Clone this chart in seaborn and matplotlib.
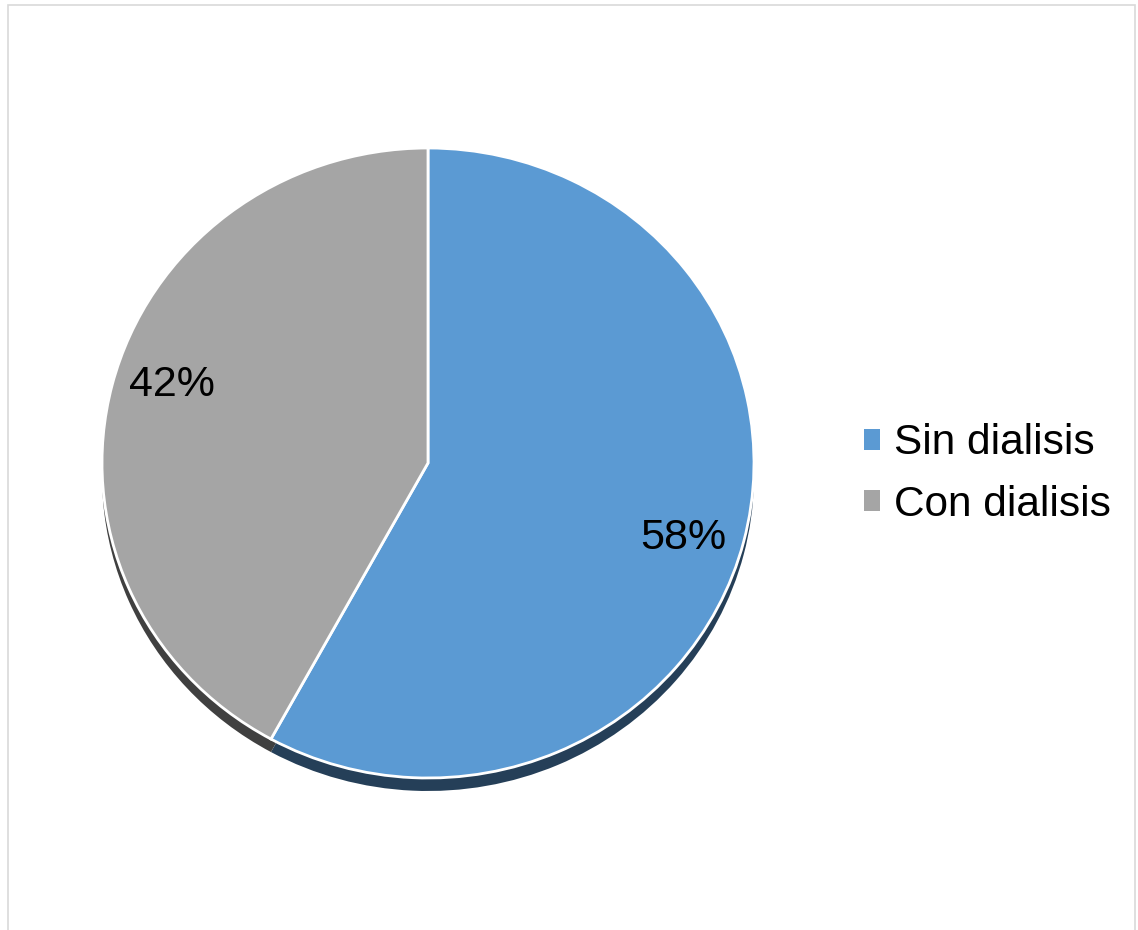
import matplotlib
matplotlib.use("Agg")
import matplotlib.pyplot as plt
import seaborn as sns
from matplotlib.patches import Rectangle

# data
labels = ["Sin dialisis", "Con dialisis"]
values = [58, 42]
colors = ["#5B9AD3", "#A5A5A5"]
shadow_colors = ["#253F58", "#404040"]

sns.set_theme(style="white")
plt.rcParams["font.family"] = ["Liberation Sans", "DejaVu Sans"]
plt.rcParams["text.color"] = "black"

W, H = 1138, 930
fig = plt.figure(figsize=(W / 100, H / 100), dpi=100)
ax = fig.add_axes([0, 0, 1, 1])

# slight vertical squash like the tilted original
squash = 326 / 315
cx, cy = 428, (H - 463) * squash
r = 326

# shadow pie underneath
ax.pie(values, colors=shadow_colors, startangle=90, counterclock=False,
       center=(cx, cy - 13 * squash), radius=r,
       wedgeprops=dict(linewidth=0))

wedges, texts, autotexts = ax.pie(
    values, colors=colors, startangle=90, counterclock=False,
    center=(cx, cy), radius=r, autopct="%1.0f%%", pctdistance=0.81,
    wedgeprops=dict(edgecolor="white", linewidth=2),
    textprops=dict(fontsize=31, color="black"),
)
# labels sit a little further from the horizontal in the original
for t, dy in zip(autotexts, [-12, 15]):
    x, y = t.get_position()
    t.set_position((x, y + dy * squash))

ax.set_aspect("auto")
ax.set_xlim(0, W)
ax.set_ylim(0, H * squash)
ax.axis("off")

leg = ax.legend(wedges, labels, loc="center left",
                bbox_to_anchor=(864 / W, 1 - 474 / H),
                bbox_transform=fig.transFigure,
                frameon=False, fontsize=30.5, borderpad=0, borderaxespad=0,
                handlelength=0.37, handleheight=0.37, handletextpad=0.33,
                labelspacing=0.5)
for h in leg.legend_handles:
    h.set_edgecolor("none")
for t in leg.get_texts():
    t.set_color("black")

# thin chart border
fig.add_artist(Rectangle((8 / W, -0.1), (1135 - 8) / W, 1.1 - 5 / H,
                         transform=fig.transFigure, fill=False,
                         edgecolor="#D9D9D9", linewidth=1.2))

fig.savefig("out.png", dpi=100)
